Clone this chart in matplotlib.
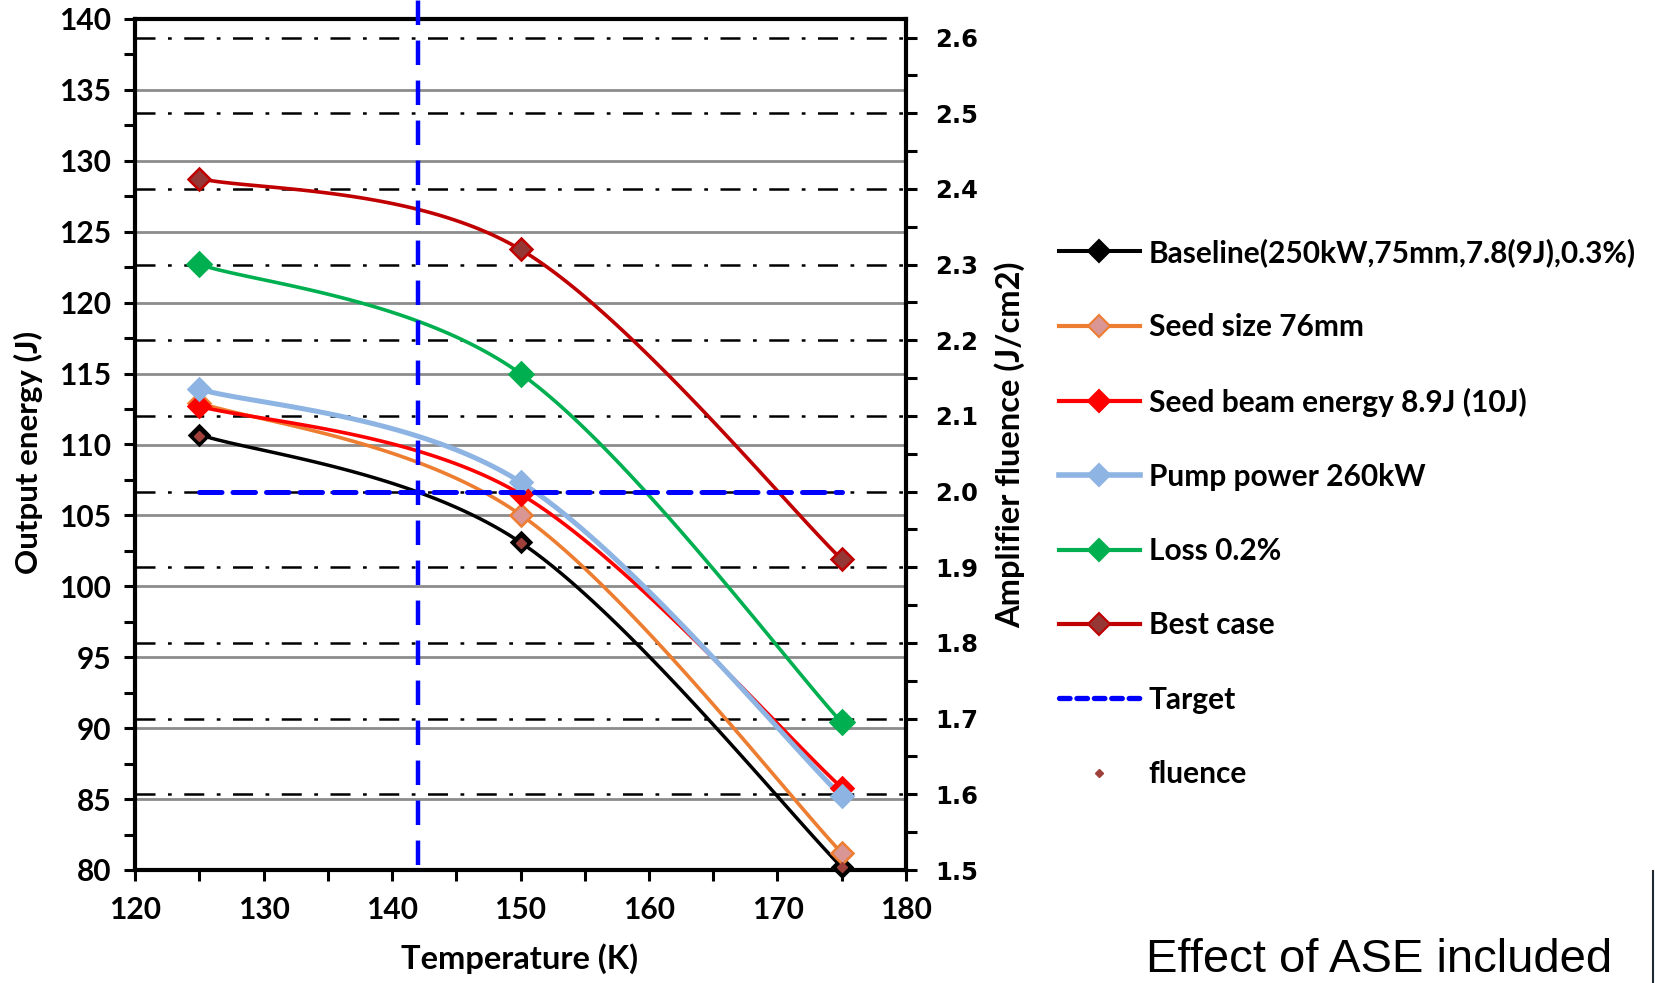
import numpy as np
import matplotlib
matplotlib.use("Agg")
import matplotlib.pyplot as plt
from matplotlib.lines import Line2D
from matplotlib.ticker import MultipleLocator, FormatStrFormatter
from matplotlib.font_manager import FontProperties

# ---------------- data ----------------
temperature = [125, 150, 175]
baseline = [110.7, 103.1, 80.2]
seed_size = [112.95, 105.05, 81.2]
seed_energy = [112.7, 106.5, 85.8]
pump_power = [113.9, 107.35, 85.2]
loss = [122.7, 115.0, 90.4]
best_case = [128.75, 123.75, 101.9]
fluence = [2.073, 1.932, 1.504]
target_temp = [125, 175]
target_fluence = [2.0, 2.0]
target_T_line = 142

series_labels = ["Baseline(250kW,75mm,7.8(9J),0.3%)", "Seed size 76mm",
                 "Seed beam energy 8.9J (10J)", "Pump power 260kW",
                 "Loss 0.2%", "Best case"]


def smooth(x, y, n=60):
    """Excel-like smoothed line (Catmull-Rom Bezier) through the points."""
    P = np.column_stack([np.asarray(x, float), np.asarray(y, float)])
    out = []
    m = len(P)
    for i in range(m - 1):
        p0 = P[i - 1] if i > 0 else P[i]
        p1 = P[i]
        p2 = P[i + 1]
        p3 = P[i + 2] if i + 2 < m else P[i + 1]
        c1 = p1 + (p2 - p0) / 6.0
        c2 = p2 - (p3 - p1) / 6.0
        t = np.linspace(0, 1, n)[:, None]
        seg = ((1 - t) ** 3) * p1 + 3 * t * (1 - t) ** 2 * c1 + 3 * t ** 2 * (1 - t) * c2 + t ** 3 * p2
        out.append(seg if i == 0 else seg[1:])
    s = np.vstack(out)
    return s[:, 0], s[:, 1]


W, H = 1656, 983
fig = plt.figure(figsize=(W / 100, H / 100), dpi=100)
fig.patch.set_facecolor("white")

L, R, B, T = 135 / W, 906 / W, 1 - 870 / H, 1 - 19 / H
ax = fig.add_axes([L, B, R - L, T - B])
ax_r = ax.twinx()      # right axis ticks + dash-dot grid (behind series)
ax_f = ax.twinx()      # fluence + target (on top)

ax_r.set_zorder(0)
ax.set_zorder(1)
ax_f.set_zorder(2)
ax.patch.set_visible(False)
ax_f.patch.set_visible(False)
ax_r.patch.set_facecolor("white")

tick_fp = FontProperties(family="Lato", weight="bold", size=21.5)

# left axis
ax.set_xlim(120, 180)
ax.set_ylim(80, 140)
ax.xaxis.set_major_locator(MultipleLocator(10))
ax.xaxis.set_minor_locator(MultipleLocator(5))
ax.yaxis.set_major_locator(MultipleLocator(5))
ax.yaxis.set_minor_locator(MultipleLocator(2.5))
ax.tick_params(which="both", direction="out", length=8, width=2.2, color="black")
ax.tick_params(axis="x", pad=11)
ax.tick_params(axis="y", pad=9)
for lab in ax.get_xticklabels() + ax.get_yticklabels():
    lab.set_fontproperties(tick_fp)
for s in ax.spines.values():
    s.set_visible(False)

# right axis
RTOP = 2.6245
ax_r.set_ylim(1.5, RTOP)
ax_r.yaxis.set_major_locator(MultipleLocator(0.1))
ax_r.yaxis.set_minor_locator(MultipleLocator(0.05))
ax_r.yaxis.set_major_formatter(FormatStrFormatter("%.1f"))
ax_r.tick_params(which="both", direction="out", length=8, width=2.2, pad=13)
for lab in ax_r.get_yticklabels():
    lab.set_fontproperties(FontProperties(family="DejaVu Sans", weight="bold", size=17.5))
ax_r.set_xlim(120, 180)
for side in ["left", "right", "top", "bottom"]:
    ax_r.spines[side].set_linewidth(3)
    ax_r.spines[side].set_color("black")
ax_r.tick_params(axis="x", which="both", length=0, labelbottom=False)

# solid grey grid at left-axis major ticks
for v in ax.get_yticks():
    if 80 < v < 140:
        ax_r.axhline((v - 80) / 60 * (RTOP - 1.5) + 1.5, color="#8c8c8c", lw=2.0, zorder=0.5)
ax_r.yaxis.grid(True, which="major", color="black", lw=1.8,
                linestyle=(0, (8, 5, 1.5, 5)))
ax_r.set_axisbelow(True)

# fluence axis (invisible, same scale as right axis)
ax_f.set_ylim(ax_r.get_ylim())
ax_f.set_xlim(120, 180)
ax_f.axis("off")

# series
styles = [
    dict(color="black", lw=2.5, mfc="black", mec="black", ms=10.5),
    dict(color="#ED7D31", lw=2.6, mfc="#D99694", mec="#ED7D31", ms=11.5),
    dict(color="#FF0000", lw=2.6, mfc="#FF0000", mec="#FF0000", ms=11.5),
    dict(color="#8DB4E2", lw=3.6, mfc="#8DB4E2", mec="#8DB4E2", ms=11.5),
    dict(color="#00B050", lw=2.6, mfc="#00B050", mec="#00B050", ms=12),
    dict(color="#C00000", lw=2.6, mfc="#953735", mec="#C00000", ms=11.5),
]
data = [baseline, seed_size, seed_energy, pump_power, loss, best_case]
handles = []
for vals, st, lab in zip(data, styles, series_labels):
    xs, ys = smooth(temperature, vals)
    ax.plot(xs, ys, color=st["color"], lw=st["lw"], solid_capstyle="round", zorder=2)
    ax.plot(temperature, vals, linestyle="none", marker="D", ms=st["ms"],
            mfc=st["mfc"], mec=st["mec"], mew=1.8, zorder=3, clip_on=False)
    handles.append(Line2D([], [], color=st["color"], lw=st["lw"] + 0.4, marker="D",
                          ms=11, mfc=st["mfc"], mec=st["mec"], mew=1.5))

# vertical target temperature line
ax.plot([target_T_line, target_T_line], [80.35, 141.6], color="#0000FF", lw=3.2,
        linestyle=(0, (5.5, 3.5)), clip_on=False, zorder=4)

# target fluence and fluence points
ax_f.plot(target_temp, target_fluence, color="#0000FF", lw=3.6,
          linestyle=(0, (4.5, 2.2)), dash_capstyle="round", zorder=4)
ax_f.plot(temperature, fluence, linestyle="none", marker="D", ms=5,
          mfc="#A0403A", mec="#A0403A", zorder=5, clip_on=False)

handles.append(Line2D([], [], color="#0000FF", lw=3.8, linestyle=(0, (2.0, 1.3)),
                      dash_capstyle="round"))
handles.append(Line2D([], [], linestyle="none", marker="D", ms=4, mfc="#A0403A",
                      mec="#A0403A"))
labels = series_labels + ["Target", "fluence"]

LFS = 21.5
leg = fig.legend(handles, labels, loc="upper left",
                 bbox_to_anchor=(1047 / W, 1 - 226 / H),
                 frameon=False, handlelength=2.7, handletextpad=0.3,
                 labelspacing=1.55, borderaxespad=0,
                 prop=dict(family="Lato", weight="bold", size=LFS))

# axis titles
fig.text(28 / W, 1 - 452 / H, "Output energy (J)", rotation=90, ha="center", va="center",
         family="Lato", weight="bold", size=22.5)
fig.text(520 / W, 1 - 959 / H, "Temperature (K)", ha="center", va="center",
         family="Lato", weight="bold", size=23.5)
fig.text(1010 / W, 1 - 445 / H, "Amplifier fluence (J/cm2)", rotation=90, ha="center",
         va="center", family="Lato", weight="bold", size=23.5)

fig.text(1146 / W, 1 - 972 / H, "Effect of ASE included", ha="left", va="baseline",
         family="Liberation Sans", size=34)
fig.add_artist(Line2D([1653 / W, 1653 / W], [0, 1 - 871 / H], color="#202830", lw=1.5))

fig.savefig("out.png", dpi=100)
